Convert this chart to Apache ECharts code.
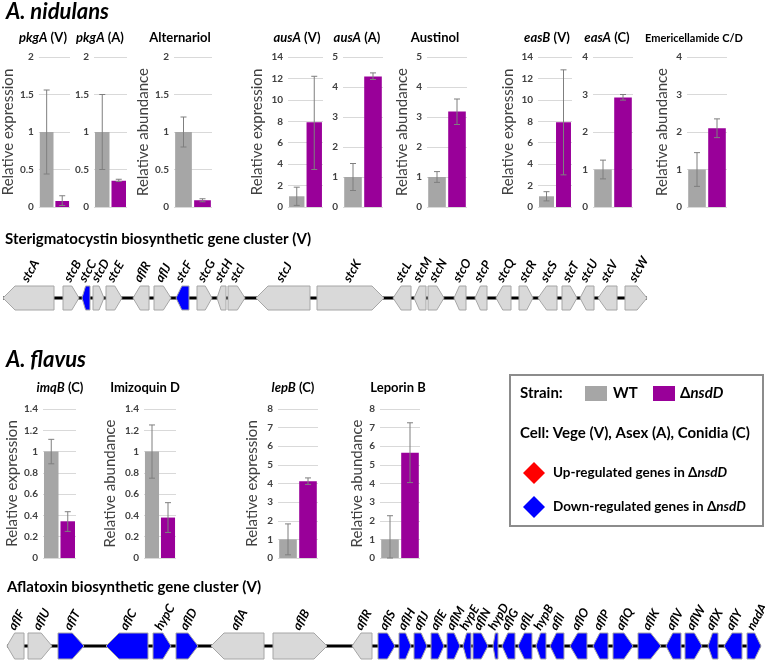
<!DOCTYPE html>
<html lang="en">
<head>
<meta charset="utf-8"/>
<title>nsdD secondary metabolite clusters</title>
<script src="https://cdn.jsdelivr.net/npm/echarts@6/dist/echarts.min.js"></script>
<style>
  html, body { margin: 0; background: #fff; }
  #container { width: 765px; height: 660px; }
</style>
</head>
<body>
<div id="container"></div>
<script>
// ---- bar panel data (WT vs nsdD) ----
var strains = ['WT', '\u0394nsdD'];
var panelTitles = ['{i|pkgA} (V)', '{i|pkgA} (A)', 'Alternariol', '{i|ausA} (V)', '{i|ausA} (A)', 'Austinol',
  '{i|easB} (V)', '{i|easA} (C)', 'Emericellamide C/D', '{i|imqB} (C)', 'Imizoquin D', '{i|lepB} (C)', 'Leporin B'];
var axisNames = ['Relative expression', '', 'Relative abundance', 'Relative expression', '', 'Relative abundance',
  'Relative expression', '', 'Relative abundance', 'Relative expression', 'Relative abundance', 'Relative expression', 'Relative abundance'];
var wtMean  = [1, 1, 1, 1, 1, 1, 1, 1, 1, 1, 1, 1, 1];
var wtLow   = [0.44, 0.5, 0.8, 0.15, 0.55, 0.82, 0.57, 0.75, 0.55, 0.885, 0.75, 0.17, 0];
var wtHigh  = [1.56, 1.5, 1.2, 1.85, 1.45, 1.18, 1.43, 1.25, 1.45, 1.115, 1.25, 1.83, 2.27];
var mutMean = [0.08, 0.35, 0.09, 7.9, 4.35, 3.18, 7.9, 2.92, 2.1, 0.345, 0.38, 4.12, 5.65];
var mutLow  = [0.02, 0.34, 0.07, 3.5, 4.25, 2.75, 3.0, 2.85, 1.85, 0.25, 0.24, 3.95, 4.05];
var mutHigh = [0.15, 0.37, 0.11, 12.2, 4.47, 3.6, 12.8, 3.0, 2.35, 0.435, 0.52, 4.3, 7.26];
var axisMax  = [2, 2, 2, 14, 5, 5, 14, 4, 4, 1.4, 1.4, 8, 8];
var axisStep = [0.5, 0.5, 0.5, 2, 1, 1, 2, 1, 1, 0.2, 0.2, 1, 1];

// ---- gene clusters: position along the drawn cluster, dir 1 = right / -1 = left, down 1 = down-regulated ----
var stcNames = ['stcA', 'stcB', 'stcC', 'stcD', 'stcE', 'aflR', 'aflJ', 'stcF', 'stcG', 'stcH', 'stcI', 'stcJ', 'stcK',
  'stcL', 'stcM', 'stcN', 'stcO', 'stcP', 'stcQ', 'stcR', 'stcS', 'stcT', 'stcU', 'stcV', 'stcW'];
var stcStart = [3, 63, 82, 93, 106, 133, 154, 176, 197, 217, 228, 256, 317, 393, 414, 428, 454, 475, 496, 519, 538, 562, 580, 598, 625];
var stcEnd   = [54, 79, 90, 104, 122, 149, 171, 189, 212, 226, 245, 310, 384, 411, 426, 444, 466, 487, 511, 533, 557, 577, 594, 617, 647];
var stcDir   = [-1, 1, -1, 1, 1, -1, 1, -1, 1, -1, 1, -1, 1, -1, -1, 1, -1, -1, -1, 1, -1, 1, -1, -1, 1];
var stcDown  = [0, 0, 1, 0, 0, 0, 0, 1, 0, 0, 0, 0, 0, 0, 0, 0, 0, 0, 0, 0, 0, 0, 0, 0, 0];

var aflNames = ['aflF', 'aflU', 'aflT', 'aflC', 'hypC', 'aflD', 'aflA', 'aflB', 'aflR', 'aflS', 'aflH', 'aflJ', 'aflE', 'aflM',
  'hypE', 'aflN', 'hypD', 'aflG', 'aflL', 'hypB', 'aflI', 'aflO', 'aflP', 'aflQ', 'aflK', 'aflV', 'aflW', 'aflX', 'aflY', 'nadA'];
var aflStart = [7, 28, 58, 106, 153, 176, 211, 273, 352, 378, 399, 414, 431, 447, 463, 473, 493, 502, 518, 536, 550, 570, 593, 613, 638, 666, 685, 708, 724, 747];
var aflEnd   = [24, 52, 84, 148, 171, 198, 264, 327, 372, 395, 411, 427, 444, 460, 471, 488, 498, 515, 532, 546, 564, 587, 608, 633, 661, 681, 702, 718, 742, 761];
var aflDir   = [-1, 1, 1, -1, 1, 1, -1, 1, -1, 1, 1, 1, 1, 1, -1, 1, -1, -1, -1, -1, -1, -1, -1, 1, 1, -1, 1, -1, -1, 1];
var aflDown  = [0, 0, 1, 1, 1, 1, 0, 0, 0, 1, 1, 1, 1, 1, 1, 1, 1, 1, 1, 1, 1, 1, 1, 1, 1, 1, 1, 1, 1, 1];

// layout of the small panels
var panelLeft  = [37, 94, 174, 288, 343, 427, 538, 593, 687, 43, 144, 278, 380];
var panelRight = [70, 127, 212, 323, 383, 467, 572, 633, 727, 76, 176, 318, 420];
var nameGaps   = [21, 0, 19, 23, 0, 17, 22, 0, 17, 23, 26, 18, 15];
var titleX     = [43, 100, 180, 297, 357, 435, 547, 607, 694, 60, 145, 293, 398];

var GREY = '#a6a6a6', PURPLE = '#990099', BLUE = '#0000ff';
var FONT = 'Lato';

var grids = [], xAxes = [], yAxes = [], series = [], graphics = [];

for (var i = 0; i < panelTitles.length; i++) {
  var gridTop = i < 9 ? 57 : 409;
  var gridH = i < 9 ? 150 : 149;
  grids.push({ left: panelLeft[i], top: gridTop, width: panelRight[i] - panelLeft[i], height: gridH });
  xAxes.push({ type: 'category', gridIndex: i, data: strains, show: false });
  yAxes.push({
    type: 'value', gridIndex: i, min: 0, max: axisMax[i], interval: axisStep[i],
    name: axisNames[i], nameLocation: 'middle', nameGap: nameGaps[i],
    nameTextStyle: { fontFamily: FONT, fontSize: 15, color: '#404040' },
    axisLine: { show: false }, axisTick: { show: false },
    axisLabel: { margin: 5, fontFamily: FONT, fontSize: 10, fontWeight: 'bold', color: '#404040' },
    splitLine: { lineStyle: { color: '#d9d9d9', width: 1 } }
  });
  series.push({
    type: 'bar', xAxisIndex: i, yAxisIndex: i, barCategoryGap: '12%',
    data: [
      { value: wtMean[i], itemStyle: { color: GREY } },
      { value: mutMean[i], itemStyle: { color: PURPLE } }
    ]
  });
  series.push({
    type: 'custom', xAxisIndex: i, yAxisIndex: i, z: 5,
    data: [[0, wtLow[i], wtHigh[i]], [1, mutLow[i], mutHigh[i]]],
    renderItem: function (params, api) {
      var lo = api.coord([api.value(0), api.value(1)]);
      var hi = api.coord([api.value(0), api.value(2)]);
      var st = { stroke: '#7f7f7f', lineWidth: 1 };
      return { type: 'group', children: [
        { type: 'line', shape: { x1: lo[0], y1: lo[1], x2: hi[0], y2: hi[1] }, style: st },
        { type: 'line', shape: { x1: hi[0] - 3, y1: hi[1], x2: hi[0] + 3, y2: hi[1] }, style: st },
        { type: 'line', shape: { x1: lo[0] - 3, y1: lo[1], x2: lo[0] + 3, y2: lo[1] }, style: st }
      ] };
    }
  });
  graphics.push({
    type: 'text', x: titleX[i], y: i < 9 ? 38 : 388,
    style: {
      text: panelTitles[i], align: 'center', verticalAlign: 'middle',
      fontFamily: FONT, fontWeight: 'bold', fontSize: i === 8 ? 11 : 13, fill: '#000',
      rich: { i: { fontStyle: 'italic', fontWeight: 'bold', fontFamily: FONT, fontSize: 13 } }
    }
  });
}

// gene clusters, each in its own hidden value-axis grid
function addCluster(names, starts, ends, dirs, downs, clusterTop, height, labelGap) {
  var g = grids.length;
  grids.push({ left: 0, right: 0, top: clusterTop, height: height });
  xAxes.push({ type: 'value', gridIndex: g, min: 0, max: 765, show: false });
  yAxes.push({ type: 'value', gridIndex: g, min: 0, max: 1, show: false });
  series.push({
    type: 'line', xAxisIndex: g, yAxisIndex: g, symbol: 'none', silent: true,
    lineStyle: { color: '#000', width: 3 },
    data: [[starts[0], 0.5], [ends[ends.length - 1], 0.5]]
  });
  var data = [];
  for (var k = 0; k < names.length; k++) data.push([starts[k], ends[k], dirs[k], downs[k]]);
  series.push({
    type: 'custom', xAxisIndex: g, yAxisIndex: g, z: 4, clip: false,
    data: data,
    renderItem: function (params, api) {
      var a = api.coord([api.value(0), 1]);
      var b = api.coord([api.value(1), 0]);
      var x0 = a[0], x1 = b[0], yT = a[1], yB = b[1], yM = (yT + yB) / 2;
      var len = x1 - x0, hh = yB - yT;
      var head = Math.min(hh * 0.5, len * 0.45);
      var pts = api.value(2) > 0
        ? [[x0, yT], [x1 - head, yT], [x1, yM], [x1 - head, yB], [x0, yB]]
        : [[x0 + head, yT], [x1, yT], [x1, yB], [x0 + head, yB], [x0, yM]];
      var cx = (x0 + x1) / 2;
      return { type: 'group', children: [
        { type: 'polygon', shape: { points: pts },
          style: { fill: api.value(3) ? BLUE : '#d9d9d9', stroke: '#a6a6a6', lineWidth: 1 } },
        { type: 'text', x: cx - 4, y: yT - labelGap, rotation: Math.PI / 3,
          style: { text: names[params.dataIndex], align: 'left', verticalAlign: 'middle',
            fontFamily: FONT, fontStyle: 'italic', fontWeight: 'bold', fontSize: 12.5, fill: '#000' } }
      ] };
    }
  });
}
addCluster(stcNames, stcStart, stcEnd, stcDir, stcDown, 286, 24, 5);
addCluster(aflNames, aflStart, aflEnd, aflDir, aflDown, 633, 26, 4);

// headings
function heading(t, x, y, size, italic) {
  graphics.push({ type: 'text', x: x, y: y, style: { text: t, fontFamily: FONT, fontSize: size,
    fontWeight: 'bold', fontStyle: italic ? 'italic' : 'normal', fill: '#000', verticalAlign: 'top' } });
}
heading('A. nidulans', 6, 1, 22, true);
heading('A. flavus', 6, 349, 22, true);
heading('Sterigmatocystin biosynthetic gene cluster (V)', 5, 232, 15, false);
heading('Aflatoxin biosynthetic gene cluster (V)', 7, 580, 15, false);

// legend box
function lgText(t, x, y, size) {
  graphics.push({ type: 'text', x: x, y: y, style: { text: t, fontFamily: FONT, fontWeight: 'bold', fontSize: size,
    fill: '#000', verticalAlign: 'middle', rich: { i: { fontStyle: 'italic', fontWeight: 'bold', fontFamily: FONT, fontSize: size } } } });
}
graphics.push({ type: 'rect', shape: { x: 510, y: 375, width: 253, height: 151 },
  style: { fill: '#fff', stroke: '#8c8c8c', lineWidth: 2 } });
lgText('Strain:', 520, 393, 15);
graphics.push({ type: 'rect', shape: { x: 585, y: 386, width: 22, height: 15 }, style: { fill: GREY } });
lgText('WT', 613, 393, 15);
graphics.push({ type: 'rect', shape: { x: 653, y: 386, width: 22, height: 15 }, style: { fill: PURPLE } });
lgText('\u0394{i|nsdD}', 680, 393, 15);
lgText('Cell: Vege (V), Asex (A), Conidia (C)', 520, 433, 15);
graphics.push({ type: 'polygon', shape: { points: [[534, 462], [545, 473], [534, 484], [523, 473]] }, style: { fill: '#ff0000' } });
lgText('Up-regulated genes in \u0394{i|nsdD}', 553, 473, 13.5);
graphics.push({ type: 'polygon', shape: { points: [[534, 496], [545, 507], [534, 518], [523, 507]] }, style: { fill: BLUE } });
lgText('Down-regulated genes in \u0394{i|nsdD}', 553, 507, 13.5);

var chart = echarts.init(document.getElementById('container'));
chart.setOption({
  animation: false,
  grid: grids,
  xAxis: xAxes,
  yAxis: yAxes,
  series: series,
  graphic: graphics
});
</script>
</body>
</html>
